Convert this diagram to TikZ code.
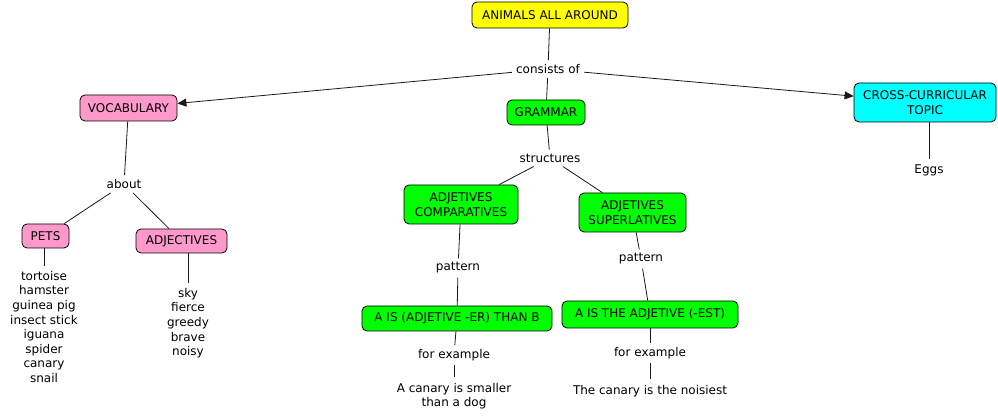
\documentclass[tikz,border=0pt]{standalone}
\usepackage{fontspec}
\setmainfont{DejaVu Sans}
\usetikzlibrary{arrows.meta}
\definecolor{cyellow}{RGB}{255,255,0}
\definecolor{cpink}{RGB}{255,153,204}
\definecolor{cgreen}{RGB}{0,255,0}
\definecolor{ccyan}{RGB}{0,255,255}
\tikzset{
  concept/.style={draw=black, line width=0.8pt, rounded corners=5pt, align=center, text=black, inner sep=2pt},
  lbl/.style={align=center, inner sep=4pt, text=black},
  link/.style={draw=black!90, line width=0.8pt},
  arr/.style={link, -{Triangle[length=9pt,width=8pt]}},
}
\begin{document}
\begin{tikzpicture}[x=1pt,y=-1pt, font=\fontsize{12}{14.6}\selectfont]
\useasboundingbox[fill=white] (0,0) rectangle (998,419);
% concepts
\node[concept, fill=cyellow, minimum width=156, minimum height=26] (animals) at (550,15) {ANIMALS ALL AROUND};
\node[concept, fill=cpink, minimum width=97, minimum height=26] (vocab) at (128.5,108) {VOCABULARY};
\node[concept, fill=cgreen, minimum width=78, minimum height=25] (grammar) at (546,112.5) {GRAMMAR};
\node[concept, fill=ccyan, minimum width=142, minimum height=39] (cross) at (925,102.5) {CROSS-CURRICULAR\\TOPIC};
\node[concept, fill=cpink, minimum width=47, minimum height=24] (pets) at (45.5,236) {PETS};
\node[concept, fill=cpink, minimum width=91, minimum height=24] (adj) at (181.5,241) {ADJECTIVES};
\node[concept, fill=cgreen, minimum width=114, minimum height=39] (comp) at (461,204.5) {ADJETIVES\\COMPARATIVES};
\node[concept, fill=cgreen, minimum width=107, minimum height=39] (sup) at (632.5,212.5) {ADJETIVES\\SUPERLATIVES};
\node[concept, fill=cgreen, minimum width=190, minimum height=25] (er) at (457,318.5) {A IS (ADJETIVE -ER) THAN B};
\node[concept, fill=cgreen, minimum width=176, minimum height=27] (est) at (650,314.5) {A IS THE ADJETIVE (-EST)};
% labels
\node[lbl] (consists) at (548,69) {consists of};
\node[lbl] (about) at (124,184) {about};
\node[lbl] (structures) at (550,158) {structures};
\node[lbl] (patl) at (458,268) {pattern};
\node[lbl] (patr) at (641,259) {pattern};
\node[lbl] (fel) at (454,355) {for example};
\node[lbl] (fer) at (650,353) {for example};
% leaves
\node[lbl, inner sep=5pt] (eggs) at (929,170) {Eggs};
\node[lbl, anchor=north, inner sep=5pt] (petlist) at (44,266) {tortoise\\hamster\\guinea pig\\insect stick\\iguana\\spider\\canary\\snail};
\node[lbl, anchor=north, inner sep=5pt] (adjlist) at (188,283) {sky\\fierce\\greedy\\brave\\noisy};
\node[lbl, inner sep=6pt] (exl) at (454,396) {A canary is smaller\\than a dog};
\node[lbl, inner sep=6pt] (exr) at (650,391) {The canary is the noisiest};
% connectors
\draw[link] (animals) -- (consists);
\draw[arr] (consists) -- (vocab);
\draw[link] (consists) -- (grammar);
\draw[arr] (consists) -- (cross);
\draw[link] (cross.south -| eggs) -- (eggs);
\draw[link] (vocab) -- (about);
\draw[link] (about) -- (pets);
\draw[link] (about) -- (adj);
\draw[link] (pets.south -| petlist) -- (petlist);
\draw[link] (adj.south -| adjlist) -- (adjlist);
\draw[link] (grammar) -- (structures);
\draw[link] (structures) -- (comp);
\draw[link] (structures) -- (sup);
\draw[link] (comp) -- (patl);
\draw[link] (patl) -- (er);
\draw[link] (sup) -- (patr);
\draw[link] (patr) -- (est);
\draw[link] (er) -- (fel);
\draw[link] (fel) -- (exl);
\draw[link] (est) -- (fer);
\draw[link] (fer) -- (exr);
\end{tikzpicture}
\end{document}
